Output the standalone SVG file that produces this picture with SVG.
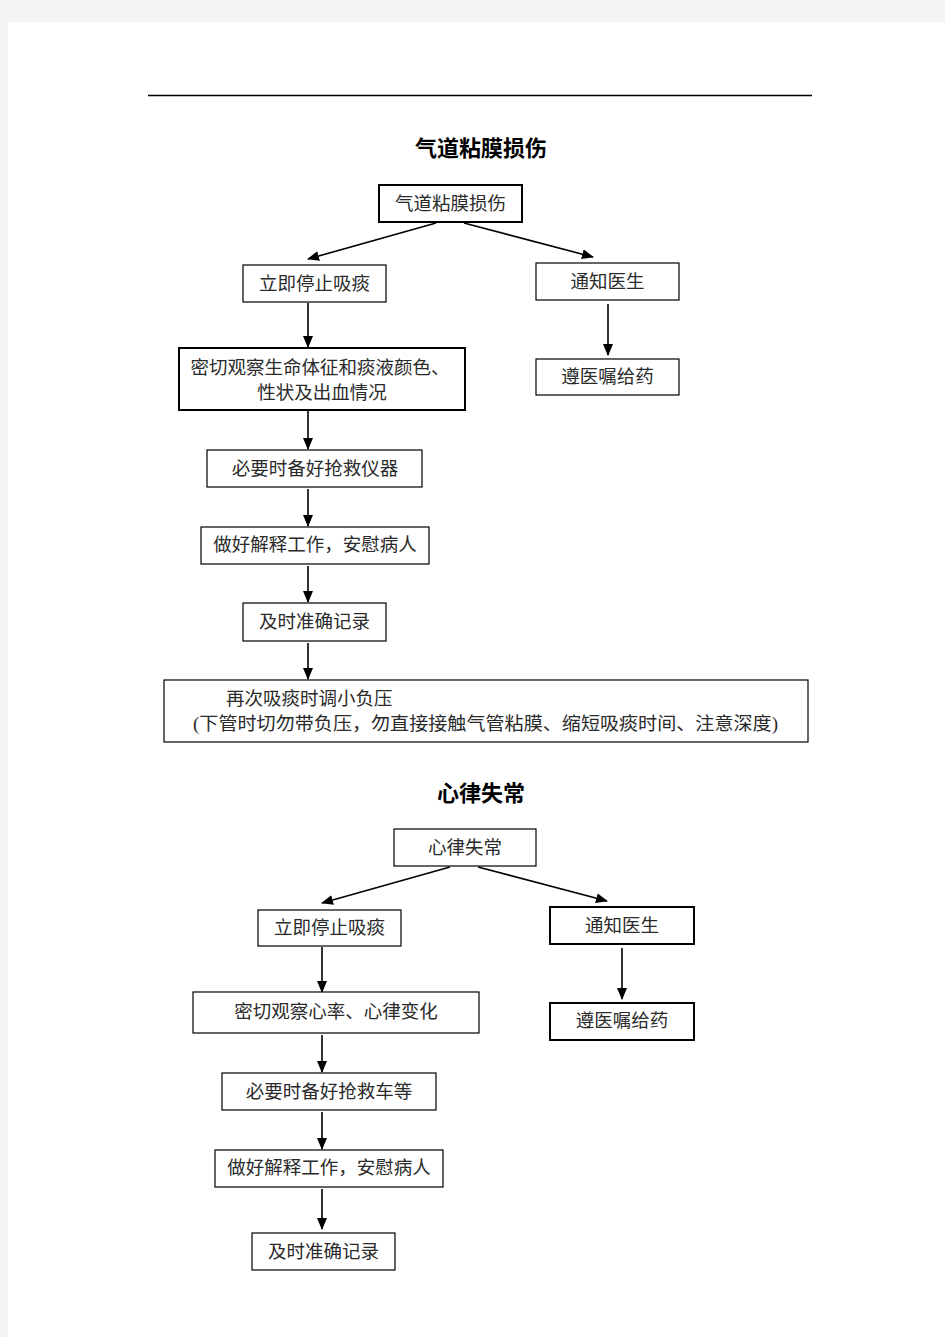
<svg xmlns="http://www.w3.org/2000/svg" width="945" height="1337" viewBox="0 0 945 1337">
<style>
.box{fill:#fff;stroke:#000;stroke-width:1.2}
.thick{stroke-width:2}
.t{font-family:"Liberation Serif","Noto Sans CJK SC",serif;font-size:18.5px;fill:#2a2a2a;text-anchor:middle;dominant-baseline:central}
.tl{font-family:"Liberation Serif","Noto Sans CJK SC",serif;font-size:18.5px;fill:#2a2a2a;dominant-baseline:central}
.title{font-family:"Liberation Serif","Noto Sans CJK SC",serif;font-size:22px;font-weight:bold;fill:#000;text-anchor:middle;dominant-baseline:central}
.c{stroke:#000;stroke-width:1.6;fill:none;marker-end:url(#ah)}
</style>
<defs>
<marker id="ah" markerWidth="12" markerHeight="10" refX="11" refY="5" orient="auto" markerUnits="userSpaceOnUse">
<path d="M0,0 L12,5 L0,10 Z" fill="#000"/>
</marker>
</defs>
<rect x="0" y="0" width="945" height="1337" fill="#f4f4f4"/>
<rect x="8" y="22" width="937" height="1315" fill="#fff"/>
<line x1="148" y1="95.5" x2="812" y2="95.5" stroke="#000" stroke-width="1.5"/>

<text class="title" x="481" y="148">气道粘膜损伤</text>
<text class="title" x="481" y="793">心律失常</text>

<g id="connectors">
<line class="c" x1="436" y1="223" x2="308" y2="259"/>
<line class="c" x1="464" y1="223" x2="593" y2="257"/>
<line class="c" x1="608" y1="304" x2="608" y2="355"/>
<line class="c" x1="308" y1="303" x2="308" y2="347"/>
<line class="c" x1="308" y1="411" x2="308" y2="449"/>
<line class="c" x1="308" y1="489" x2="308" y2="526"/>
<line class="c" x1="308" y1="566" x2="308" y2="602"/>
<line class="c" x1="308" y1="643" x2="308" y2="679"/>
<line class="c" x1="450" y1="867" x2="322" y2="903"/>
<line class="c" x1="478" y1="867" x2="607" y2="901"/>
<line class="c" x1="622" y1="948" x2="622" y2="999"/>
<line class="c" x1="322" y1="947" x2="322" y2="992"/>
<line class="c" x1="322" y1="1035" x2="322" y2="1072"/>
<line class="c" x1="322" y1="1112" x2="322" y2="1149"/>
<line class="c" x1="322" y1="1189" x2="322" y2="1229"/>
</g>

<g id="n1"><rect class="box thick" x="379" y="185" width="143" height="37"/><text class="t" x="450.5" y="204">气道粘膜损伤</text></g>
<g id="n2"><rect class="box" x="243" y="265" width="143" height="37"/><text class="t" x="314.5" y="284">立即停止吸痰</text></g>
<g id="n3"><rect class="box" x="536" y="263" width="143" height="37"/><text class="t" x="607.5" y="282">通知医生</text></g>
<g id="n4"><rect class="box" x="536" y="359" width="143" height="36"/><text class="t" x="607.5" y="377">遵医嘱给药</text></g>
<g id="n5"><rect class="box thick" x="179" y="348" width="286" height="62"/><text class="t" x="320" y="368">密切观察生命体征和痰液颜色、</text><text class="t" x="322" y="393">性状及出血情况</text></g>
<g id="n6"><rect class="box" x="207" y="450" width="215" height="37" stroke-width="1.5"/><text class="t" x="315" y="469">必要时备好抢救仪器</text></g>
<g id="n7"><rect class="box" x="201" y="527" width="228" height="37"/><text class="t" x="315" y="545">做好解释工作，安慰病人</text></g>
<g id="n8"><rect class="box" x="243" y="603" width="143" height="38" stroke-width="1.5"/><text class="t" x="314.5" y="622">及时准确记录</text></g>
<g id="n9"><rect class="box" x="164" y="680" width="644" height="62" stroke-width="1.5"/><text class="tl" x="226" y="699">再次吸痰时调小负压</text><text class="tl" x="193" y="724" textLength="585" lengthAdjust="spacingAndGlyphs">(下管时切勿带负压，勿直接接触气管粘膜、缩短吸痰时间、注意深度)</text></g>

<g id="m1"><rect class="box" x="394" y="829" width="142" height="37"/><text class="t" x="465" y="848">心律失常</text></g>
<g id="m2"><rect class="box" x="258" y="910" width="143" height="36"/><text class="t" x="329.5" y="928">立即停止吸痰</text></g>
<g id="m3"><rect class="box thick" x="550" y="907" width="144" height="37"/><text class="t" x="622" y="926">通知医生</text></g>
<g id="m4"><rect class="box thick" x="550" y="1003" width="144" height="37"/><text class="t" x="622" y="1021">遵医嘱给药</text></g>
<g id="m5"><rect class="box" x="193" y="992" width="286" height="41"/><text class="t" x="336" y="1012">密切观察心率、心律变化</text></g>
<g id="m6"><rect class="box" x="222" y="1073" width="214" height="37"/><text class="t" x="329" y="1092">必要时备好抢救车等</text></g>
<g id="m7"><rect class="box" x="215" y="1150" width="228" height="37"/><text class="t" x="329" y="1168">做好解释工作，安慰病人</text></g>
<g id="m8"><rect class="box" x="252" y="1233" width="143" height="37" stroke-width="1.5"/><text class="t" x="323.5" y="1252">及时准确记录</text></g>
</svg>
